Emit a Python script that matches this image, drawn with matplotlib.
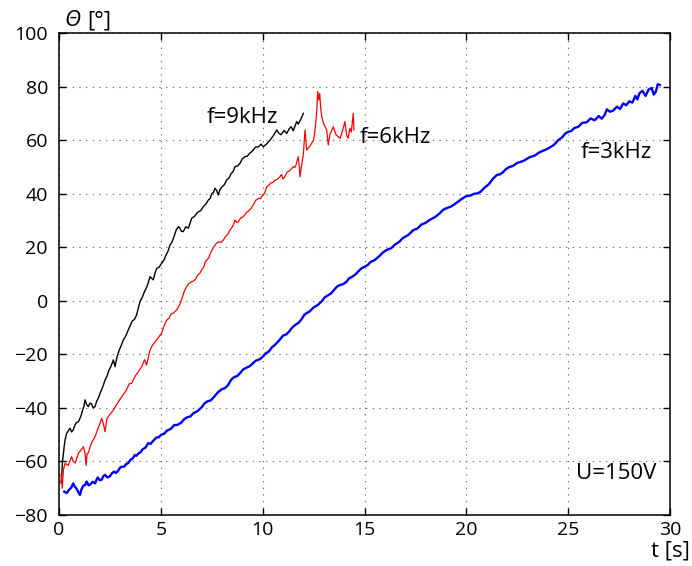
import matplotlib
matplotlib.use("Agg")
import matplotlib.pyplot as plt

plt.rcParams['font.family'] = ['Open Sans', 'DejaVu Sans']

# f = 3 kHz (blue)
t3 = [0.26, 0.38, 0.5, 0.6, 0.7, 0.78, 0.85, 0.95, 1.03, 1.1, 1.2, 1.28, 1.36, 1.45, 1.55,
      1.65, 1.77, 1.84, 1.9, 2.0, 2.1, 2.18, 2.26, 2.38, 2.5, 2.6, 2.7, 2.8, 2.9, 3.0, 3.08,
      3.2, 3.3, 3.4, 3.5, 3.6, 3.73, 3.8, 3.9, 4.0, 4.1, 4.25, 4.38, 4.5, 4.6, 4.7, 4.8,
      4.9, 5.0, 5.15, 5.3, 5.5, 5.66, 5.8, 6.0, 6.15, 6.3, 6.45, 6.6, 6.8, 7.0, 7.15, 7.3,
      7.45, 7.6, 7.8, 8.0, 8.15, 8.3, 8.45, 8.6, 8.75, 8.89, 9.05, 9.2, 9.35, 9.5, 9.65,
      9.8, 9.9, 10.0, 10.15, 10.3, 10.45, 10.6, 10.8, 11.0, 11.15, 11.3, 11.45, 11.6, 11.75,
      11.9, 12.05, 12.16, 12.3, 12.5, 12.7, 12.9, 13.05, 13.2, 13.35, 13.5, 13.65, 13.8,
      13.95, 14.1, 14.25, 14.4, 14.55, 14.7, 14.85, 15.0, 15.15, 15.3, 15.5, 15.7, 15.9,
      16.09, 16.3, 16.5, 16.7, 16.9, 17.15, 17.4, 17.6, 17.8, 18.0, 18.2, 18.45, 18.7,
      18.85, 19.0, 19.25, 19.5, 19.75, 20.0, 20.2, 20.4, 20.55, 20.7, 20.9, 21.1, 21.3,
      21.5, 21.65, 21.8, 21.95, 22.1, 22.3, 22.5, 22.8, 23.1, 23.35, 23.6, 23.95, 24.3,
      24.5, 24.7, 24.85, 25.0, 25.15, 25.3, 25.5, 25.7, 25.9, 26.1, 26.3, 26.5, 26.65,
      26.8, 26.9, 27.05, 27.2, 27.4, 27.55, 27.7, 27.85, 28.0, 28.15, 28.3, 28.4, 28.5,
      28.65, 28.8, 28.95, 29.1, 29.2, 29.3, 29.4, 29.5]
th3 = [-71.3, -71.8, -70.5, -69.8, -68.2, -69.5, -70.0, -71.5, -72.5, -70.5, -69.0, -68.8,
       -67.5, -68.9, -68.5, -67.6, -68.2, -66.9, -66.0, -67.0, -66.8, -65.5, -65.0, -66.0,
       -65.5, -64.4, -63.8, -64.3, -63.5, -62.3, -62.0, -61.9, -61.0, -60.6, -59.5, -59.0,
       -57.6, -57.9, -57.0, -56.6, -55.5, -54.8, -53.2, -53.4, -52.5, -51.7, -51.0, -51.0,
       -50.1, -49.7, -48.5, -47.8, -46.4, -46.4, -45.5, -44.2, -43.5, -43.2, -42.0, -41.2,
       -39.8, -38.3, -37.5, -37.2, -36.0, -34.2, -33.0, -32.6, -31.5, -29.5, -28.5, -28.1,
       -27.0, -25.6, -25.0, -24.5, -23.5, -22.4, -22.0, -21.6, -20.9, -19.6, -19.0, -17.4,
       -16.5, -14.9, -13.0, -12.6, -11.5, -10.0, -9.0, -8.3, -7.0, -5.2, -4.6, -4.0, -2.5,
       -1.6, -0.2, 1.3, 2.0, 2.7, 4.0, 5.3, 5.9, 6.2, 7.0, 8.4, 9.0, 9.8, 11.0, 12.1, 12.7,
       13.3, 14.5, 15.2, 16.5, 18.0, 19.0, 19.6, 21.0, 22.0, 23.5, 24.6, 26.4, 27.0, 28.5,
       29.1, 30.2, 31.2, 32.7, 33.9, 34.5, 35.2, 36.5, 37.9, 39.1, 39.3, 40.0, 40.1, 40.7,
       42.3, 43.5, 45.5, 47.0, 47.2, 48.0, 49.2, 49.9, 50.4, 51.5, 52.2, 53.6, 54.2, 55.5,
       56.6, 58.2, 59.9, 61.0, 62.4, 63.1, 63.4, 64.5, 65.0, 66.5, 66.6, 68.1, 67.4, 69.0,
       68.0, 69.5, 71.5, 70.6, 71.0, 72.5, 71.6, 73.7, 73.0, 74.5, 74.0, 76.5, 75.2, 77.5,
       78.4, 76.5, 78.9, 79.5, 77.0, 78.0, 80.9, 80.6]

# f = 6 kHz (red)
t6 = [0.1, 0.16, 0.22, 0.3, 0.45, 0.62, 0.7, 0.8, 0.95, 1.1, 1.2, 1.28, 1.33, 1.38, 1.44,
      1.6, 1.77, 1.9, 2.0, 2.1, 2.18, 2.26, 2.35, 2.5, 2.67, 2.85, 3.08, 3.3, 3.45, 3.57,
      3.75, 3.9, 4.06, 4.2, 4.3, 4.45, 4.55, 4.75, 4.9, 5.04, 5.15, 5.29, 5.4, 5.5, 5.62,
      5.78, 5.9, 6.0, 6.15, 6.27, 6.38, 6.5, 6.6, 6.7, 6.8, 6.92, 7.0, 7.1, 7.18, 7.25,
      7.35, 7.45, 7.55, 7.66, 7.75, 7.85, 7.95, 8.07, 8.18, 8.3, 8.4, 8.5, 8.57, 8.64, 8.72,
      8.8, 8.92, 9.05, 9.18, 9.3, 9.42, 9.54, 9.66, 9.8, 9.9, 10.0, 10.1, 10.2, 10.3, 10.4,
      10.5, 10.6, 10.72, 10.85, 10.92, 11.0, 11.1, 11.2, 11.35, 11.5, 11.58, 11.65, 11.7,
      11.75, 11.8, 11.83, 11.9, 12.0, 12.08, 12.16, 12.3, 12.4, 12.5, 12.57, 12.65, 12.7,
      12.75, 12.8, 12.85, 12.9, 13.0, 13.14, 13.22, 13.3, 13.47, 13.6, 13.8, 13.9, 14.04,
      14.12, 14.2, 14.28, 14.35, 14.45, 14.48]
th6 = [-65.0, -70.0, -63.0, -60.7, -61.5, -58.2, -60.0, -60.6, -57.0, -55.5, -54.5, -57.0,
       -61.5, -57.0, -56.8, -53.0, -50.7, -48.0, -46.0, -43.9, -46.0, -48.9, -44.0, -42.5,
       -40.8, -38.5, -35.8, -33.5, -31.0, -30.8, -28.0, -26.5, -24.6, -22.0, -24.0, -19.0,
       -17.1, -15.0, -13.5, -12.1, -9.5, -7.2, -6.5, -5.0, -4.6, -3.4, -1.8, 0.0, 3.5, 5.3,
       6.5, 7.0, 7.4, 8.0, 9.5, 10.3, 11.5, 12.5, 14.5, 15.2, 16.0, 18.0, 19.5, 20.8, 21.6,
       22.0, 21.8, 22.7, 24.0, 25.0, 26.5, 27.5, 28.5, 30.2, 29.2, 29.5, 30.9, 31.4, 32.8,
       33.5, 34.4, 35.8, 37.5, 38.3, 38.1, 39.5, 40.2, 42.6, 43.1, 44.0, 44.2, 45.0, 45.4,
       46.3, 47.2, 45.5, 46.5, 48.0, 48.7, 50.1, 49.8, 51.0, 52.5, 53.8, 50.0, 46.3, 50.0,
       55.0, 63.8, 56.3, 57.5, 58.8, 60.0, 63.8, 70.0, 78.1, 75.0, 77.5, 72.0, 68.7, 66.0,
       63.8, 58.2, 62.0, 65.0, 62.0, 60.7, 63.0, 66.9, 62.0, 60.7, 64.4, 63.0, 70.0, 63.8]

# f = 9 kHz (black)
t9 = [0.1, 0.13, 0.17, 0.21, 0.26, 0.3, 0.34, 0.38, 0.46, 0.54, 0.62, 0.7, 0.78, 0.85,
      0.95, 1.03, 1.1, 1.15, 1.22, 1.28, 1.36, 1.44, 1.52, 1.6, 1.68, 1.77, 1.85, 1.93,
      2.02, 2.1, 2.18, 2.26, 2.35, 2.45, 2.55, 2.67, 2.75, 2.85, 2.95, 3.05, 3.16, 3.28,
      3.4, 3.5, 3.6, 3.7, 3.81, 3.9, 3.98, 4.1, 4.2, 4.33, 4.47, 4.55, 4.63, 4.72, 4.8,
      4.92, 5.04, 5.15, 5.25, 5.35, 5.45, 5.55, 5.65, 5.75, 5.86, 5.93, 6.0, 6.1, 6.22,
      6.35, 6.43, 6.51, 6.65, 6.8, 6.95, 7.08, 7.2, 7.33, 7.42, 7.5, 7.58, 7.66, 7.74,
      7.82, 7.9, 8.0, 8.12, 8.23, 8.35, 8.45, 8.55, 8.64, 8.78, 8.9, 9.0, 9.13, 9.25, 9.35,
      9.45, 9.54, 9.65, 9.8, 9.92, 10.03, 10.2, 10.36, 10.5, 10.69, 10.8, 10.9, 11.05,
      11.18, 11.3, 11.4, 11.5, 11.6, 11.67, 11.75, 11.85, 11.92, 12.0]
th9 = [-68.0, -65.7, -60.0, -57.6, -54.0, -52.0, -50.5, -49.5, -48.5, -47.6, -49.0, -48.2,
       -46.5, -45.5, -45.2, -43.9, -42.5, -41.0, -39.5, -37.0, -38.8, -39.5, -38.2, -38.5,
       -40.0, -39.5, -37.5, -36.4, -34.5, -33.0, -31.5, -29.6, -28.3, -26.0, -24.5, -22.1,
       -24.6, -21.0, -18.5, -16.8, -14.6, -13.2, -10.9, -9.2, -7.5, -7.0, -5.3, -2.5, -0.3,
       1.5, 3.5, 5.5, 9.0, 8.4, 7.8, 10.5, 12.1, 12.6, 14.0, 15.2, 17.0, 18.5, 20.8, 22.0,
       24.0, 26.4, 27.7, 27.2, 26.0, 25.8, 27.6, 27.1, 28.8, 30.8, 31.5, 33.0, 33.6, 35.1,
       36.0, 37.6, 38.2, 40.0, 40.4, 42.0, 41.2, 39.5, 41.5, 42.5, 43.4, 45.1, 45.9, 47.5,
       48.3, 50.1, 50.4, 51.5, 53.0, 53.8, 54.0, 55.0, 55.6, 56.3, 57.4, 57.5, 58.5, 57.5,
       58.6, 60.0, 61.4, 63.8, 62.5, 62.0, 63.6, 62.5, 64.2, 65.0, 63.5, 65.5, 66.9, 66.0,
       67.5, 68.6, 70.0]

xticks = [0, 5, 10, 15, 20, 25, 30]
yticks = [-80, -60, -40, -20, 0, 20, 40, 60, 80, 100]

fig = plt.figure(figsize=(6.92, 5.66), dpi=100)
ax = fig.add_axes([59/692, 51/566, 611/692, 482/566])

ax.plot(t9, th9, color='black', lw=1.0)
ax.plot(t6, th6, color='#ff0000', lw=0.9)
ax.plot(t3, th3, color='#0000ff', lw=1.7)

ax.set_xlim(0, 30)
ax.set_ylim(-80, 100)
ax.set_xticks(xticks)
ax.set_yticks(yticks)
ax.tick_params(direction='in', top=True, right=True, length=5, width=1, labelsize=14)
ax.tick_params(axis='y', pad=8)
ax.tick_params(axis='x', pad=4.5)
ax.grid(True, color='#555555', linestyle=(0, (1, 5)), linewidth=0.8)
for s in ax.spines.values():
    s.set_linewidth(1.1)

fs = 16
ax.text(7.27, 66.4, 'f=9kHz', fontsize=fs, va='baseline', ha='left')
ax.text(14.78, 58.8, 'f=6kHz', fontsize=fs, va='baseline', ha='left')
ax.text(25.6, 53.3, 'f=3kHz', fontsize=fs, va='baseline', ha='left')
ax.text(25.4, -66.7, 'U=150V', fontsize=fs, va='baseline', ha='left')

fig.text(64/692, 1 - 26/566, 'Θ', fontsize=fs, style='italic', va='baseline', ha='left')
fig.text(87/692, 1 - 26/566, '[°]', fontsize=fs, va='baseline', ha='left')
fig.text(690/692, 1 - 556/566, 't [s]', fontsize=fs, va='baseline', ha='right')

fig.savefig('out.png', dpi=100)
